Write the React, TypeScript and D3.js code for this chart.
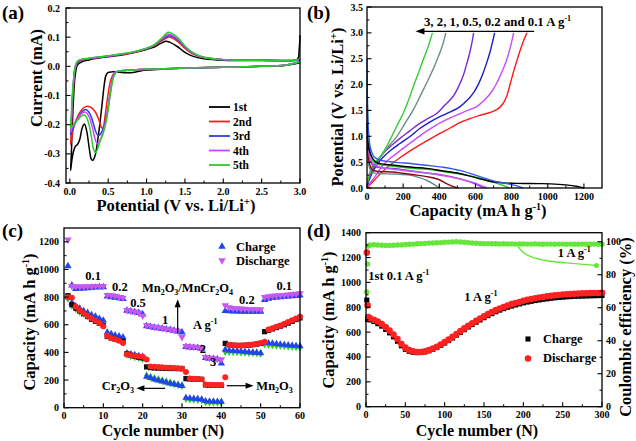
import React from 'react';
import * as d3 from 'd3';

const FONT = 'Liberation Serif, Times New Roman, serif';
type P = [number, number];
type S = d3.ScaleLinear<number, number>;

// ---------------- Panel (a): CV curves [V, mA] ----------------
const cvLabels = ['1st', '2nd', '3rd', '4th', '5th'];
const cvColors = ['#000000', '#ff1a1a', '#2f3fe0', '#cc44ff', '#2ccc2c'];
const cv1st: P[] = [
  [3.0, 0.012], [2.8, 0.003], [2.5, 0.0], [2.0, -0.003], [1.5, -0.006], [1.2, -0.01], [1.0, -0.013], [0.9, -0.017], [0.8, -0.022], [0.72, -0.022], [0.65, -0.02], [0.55, -0.019], [0.5, -0.021], [0.47, -0.032], [0.45, -0.06], [0.42, -0.13], [0.39, -0.2], [0.36, -0.26], [0.33, -0.305], [0.3, -0.322], [0.28, -0.318], [0.25, -0.275], [0.22, -0.222], [0.19, -0.198], [0.16, -0.212], [0.13, -0.25], [0.1, -0.268], [0.07, -0.275], [0.045, -0.295], [0.025, -0.325], [0.01, -0.357],
  [0.02, -0.3], [0.03, -0.22], [0.05, -0.1], [0.07, -0.03], [0.1, 0.005], [0.15, 0.015], [0.25, 0.022], [0.4, 0.029], [0.6, 0.036], [0.8, 0.045], [1.0, 0.058], [1.1, 0.066], [1.18, 0.078], [1.25, 0.086], [1.3, 0.083], [1.4, 0.068], [1.5, 0.048], [1.6, 0.035], [1.75, 0.026], [2.0, 0.021], [2.5, 0.02], [2.9, 0.02], [2.97, 0.025], [2.99, 0.06], [3.0, 0.107],
];
const cv2nd: P[] = [
  [3.0, 0.016], [2.8, 0.004], [2.5, 0.0], [2.0, -0.003], [1.5, -0.006], [1.0, -0.01], [0.8, -0.013], [0.65, -0.016], [0.59, -0.02], [0.56, -0.03], [0.53, -0.05], [0.49, -0.11], [0.46, -0.17], [0.43, -0.213], [0.41, -0.208], [0.38, -0.185], [0.34, -0.16], [0.29, -0.143], [0.23, -0.137], [0.18, -0.142], [0.13, -0.158], [0.08, -0.185], [0.05, -0.21], [0.025, -0.245], [0.01, -0.268],
  [0.02, -0.22], [0.03, -0.15], [0.05, -0.06], [0.07, -0.01], [0.1, 0.012], [0.15, 0.02], [0.25, 0.026], [0.4, 0.031], [0.6, 0.038], [0.8, 0.046], [1.0, 0.06], [1.1, 0.07], [1.2, 0.088], [1.28, 0.1], [1.33, 0.098], [1.42, 0.082], [1.5, 0.062], [1.6, 0.043], [1.75, 0.03], [2.0, 0.023], [2.5, 0.021], [2.9, 0.02], [3.0, 0.022],
];
const cv3rd: P[] = [
  [3.0, 0.016], [2.8, 0.004], [2.5, 0.0], [2.0, -0.003], [1.5, -0.006], [1.0, -0.01], [0.8, -0.013], [0.65, -0.016], [0.6, -0.02], [0.57, -0.03], [0.545, -0.06], [0.515, -0.11], [0.48, -0.17], [0.44, -0.21], [0.4, -0.232], [0.37, -0.238], [0.34, -0.225], [0.3, -0.19], [0.26, -0.162], [0.21, -0.148], [0.16, -0.155], [0.11, -0.175], [0.06, -0.2], [0.03, -0.22], [0.01, -0.235],
  [0.02, -0.19], [0.03, -0.13], [0.05, -0.05], [0.07, -0.005], [0.1, 0.015], [0.15, 0.022], [0.25, 0.027], [0.4, 0.032], [0.6, 0.039], [0.8, 0.047], [1.0, 0.061], [1.1, 0.072], [1.2, 0.092], [1.29, 0.105], [1.34, 0.102], [1.42, 0.087], [1.5, 0.066], [1.6, 0.045], [1.75, 0.03], [2.0, 0.023], [2.5, 0.021], [2.9, 0.02], [3.0, 0.022],
];
const cv4th: P[] = [
  [3.0, 0.016], [2.8, 0.004], [2.5, 0.0], [2.0, -0.003], [1.5, -0.006], [1.0, -0.01], [0.8, -0.013], [0.65, -0.016], [0.6, -0.02], [0.57, -0.03], [0.545, -0.06], [0.515, -0.115], [0.48, -0.175], [0.44, -0.22], [0.4, -0.25], [0.36, -0.265], [0.33, -0.25], [0.29, -0.205], [0.25, -0.172], [0.2, -0.157], [0.15, -0.162], [0.1, -0.18], [0.05, -0.2], [0.025, -0.215], [0.01, -0.225],
  [0.02, -0.18], [0.03, -0.12], [0.05, -0.045], [0.07, -0.002], [0.1, 0.016], [0.15, 0.023], [0.25, 0.027], [0.4, 0.032], [0.6, 0.039], [0.8, 0.047], [1.0, 0.061], [1.1, 0.073], [1.2, 0.095], [1.28, 0.11], [1.33, 0.107], [1.42, 0.091], [1.5, 0.068], [1.6, 0.046], [1.75, 0.03], [2.0, 0.023], [2.5, 0.021], [2.9, 0.02], [3.0, 0.023],
];
const cv5th: P[] = [
  [3.0, 0.016], [2.8, 0.004], [2.5, 0.0], [2.0, -0.003], [1.5, -0.006], [1.0, -0.01], [0.8, -0.013], [0.65, -0.016], [0.62, -0.018], [0.58, -0.03], [0.55, -0.06], [0.52, -0.11], [0.48, -0.18], [0.44, -0.225], [0.39, -0.26], [0.36, -0.285], [0.335, -0.296], [0.31, -0.285], [0.28, -0.24], [0.25, -0.2], [0.22, -0.176], [0.19, -0.167], [0.15, -0.17], [0.1, -0.185], [0.05, -0.2], [0.025, -0.207], [0.01, -0.212],
  [0.02, -0.17], [0.03, -0.11], [0.05, -0.04], [0.07, 0.0], [0.1, 0.018], [0.15, 0.024], [0.25, 0.028], [0.4, 0.033], [0.6, 0.04], [0.8, 0.048], [1.0, 0.062], [1.1, 0.074], [1.2, 0.097], [1.28, 0.117], [1.33, 0.113], [1.42, 0.095], [1.5, 0.07], [1.6, 0.048], [1.75, 0.031], [2.0, 0.023], [2.5, 0.021], [2.9, 0.02], [3.0, 0.024],
];
const cvCycles = [cv1st, cv2nd, cv3rd, cv4th, cv5th];

// ---------------- Panel (b): galvanostatic curves [mAh/g, V] ----------------
const chargeColors = ['#ff1a1a', '#c94cf5', '#1a1acc', '#7a2ad0', '#6f8a8a', '#33cc33'];
const charge01: P[] = [[5, 0.02], [40, 0.15], [80, 0.3], [130, 0.45], [180, 0.58], [230, 0.7], [290, 0.83], [350, 0.95], [400, 1.05], [460, 1.16], [510, 1.26], [560, 1.33], [620, 1.4], [680, 1.46], [720, 1.52], [750, 1.62], [775, 1.8], [795, 2.05], [815, 2.3], [835, 2.53], [855, 2.74], [870, 2.88], [885, 3.0]];
const charge02: P[] = [[5, 0.04], [40, 0.2], [80, 0.4], [120, 0.55], [164, 0.67], [220, 0.82], [274, 0.96], [330, 1.1], [385, 1.22], [440, 1.32], [495, 1.41], [550, 1.49], [605, 1.57], [650, 1.7], [697, 1.9], [725, 2.08], [752, 2.29], [770, 2.45], [789, 2.67], [800, 2.82], [811, 3.0]];
const charge05: P[] = [[3, 0.06], [30, 0.3], [60, 0.47], [90, 0.6], [135, 0.74], [182, 0.86], [240, 1.0], [292, 1.15], [345, 1.27], [403, 1.38], [460, 1.47], [513, 1.57], [550, 1.68], [587, 1.83], [615, 2.0], [642, 2.22], [662, 2.42], [679, 2.61], [693, 2.8], [706, 3.0]];
const charge1: P[] = [[3, 0.08], [30, 0.35], [60, 0.52], [90, 0.67], [135, 0.82], [182, 0.96], [235, 1.1], [292, 1.25], [340, 1.35], [385, 1.44], [430, 1.6], [476, 1.77], [505, 1.95], [531, 2.16], [550, 2.38], [568, 2.61], [580, 2.8], [590, 3.0]];
const charge2: P[] = [[2, 0.1], [30, 0.4], [60, 0.55], [90, 0.67], [127, 0.84], [164, 0.99], [210, 1.25], [256, 1.51], [300, 1.82], [348, 2.16], [390, 2.5], [415, 2.73], [436, 3.0]];
const charge3: P[] = [[2, 0.1], [25, 0.4], [50, 0.52], [72, 0.6], [100, 0.75], [127, 0.93], [165, 1.2], [200, 1.44], [230, 1.7], [256, 1.96], [285, 2.23], [311, 2.48], [335, 2.7], [362, 3.0]];
const chargeCurves = [charge01, charge02, charge05, charge1, charge2, charge3];

const dischargeColors = ['#5f8f8f', '#8b0a1a', '#8a3ad8', '#cc55ff', '#22cc22', '#000000', '#3355ee'];
const disTeal: P[] = [[0, 0.8], [5, 0.55], [15, 0.38], [30, 0.3], [72, 0.28], [150, 0.27], [237, 0.25], [290, 0.2], [329, 0.15], [370, 0.07], [403, 0.0]];
const disDarkRed: P[] = [[0, 1.0], [5, 0.7], [15, 0.45], [30, 0.35], [60, 0.32], [145, 0.31], [250, 0.26], [329, 0.22], [400, 0.16], [440, 0.085], [475, 0.03], [505, 0.0]];
const disPurple: P[] = [[0, 1.6], [4, 1.0], [10, 0.7], [20, 0.5], [40, 0.42], [80, 0.39], [145, 0.38], [250, 0.33], [330, 0.29], [421, 0.25], [500, 0.19], [568, 0.12], [610, 0.06], [645, 0.0]];
const disMagenta: P[] = [[0, 1.9], [4, 1.1], [10, 0.75], [20, 0.55], [40, 0.45], [80, 0.4], [145, 0.36], [250, 0.32], [350, 0.28], [450, 0.22], [540, 0.15], [610, 0.08], [665, 0.0]];
const disGreen: P[] = [[0, 2.2], [3, 1.5], [8, 1.0], [15, 0.75], [30, 0.55], [50, 0.47], [100, 0.44], [145, 0.42], [250, 0.38], [329, 0.36], [421, 0.32], [513, 0.27], [605, 0.21], [680, 0.13], [752, 0.05], [785, 0.0]];
const disBlack: P[] = [[0, 1.25], [5, 0.9], [15, 0.7], [30, 0.58], [50, 0.5], [72, 0.47], [150, 0.44], [250, 0.4], [329, 0.38], [420, 0.33], [513, 0.28], [600, 0.2], [697, 0.12], [760, 0.1], [826, 0.09], [950, 0.085], [1017, 0.08], [1100, 0.06], [1164, 0.03], [1200, 0.0]];
const disBlue: P[] = [[0, 2.5], [3, 1.6], [8, 1.1], [15, 0.85], [25, 0.7], [40, 0.6], [72, 0.54], [150, 0.5], [250, 0.47], [329, 0.44], [420, 0.4], [513, 0.34], [590, 0.26], [660, 0.18], [720, 0.12], [771, 0.085], [820, 0.05], [862, 0.0]];
const dischargeCurves = [disTeal, disDarkRed, disPurple, disMagenta, disGreen, disBlack, disBlue];

// ---------------- Panel (c): rate capability ----------------
const rateCycles = d3.range(1, 61);
const mnCrCharge = [1025, 885, 860, 862, 864, 866, 868, 870, 872, 873, 805, 800, 797, 793, 788, 703, 697, 692, 686, 676, 590, 585, 580, 576, 572, 568, 563, 558, 552, 545, 440, 437, 435, 433, 428, 360, 356, 353, 350, 320, 700, 698, 697, 697, 696, 696, 695, 695, 695, 695, 780, 790, 795, 798, 800, 803, 806, 808, 810, 812];
const mnCrDischarge = [1215, 880, 878, 876, 876, 877, 878, 879, 880, 880, 815, 812, 808, 800, 795, 706, 700, 695, 688, 665, 595, 590, 585, 580, 575, 570, 566, 560, 555, 510, 445, 442, 440, 437, 430, 365, 360, 356, 352, 350, 740, 725, 720, 718, 716, 714, 712, 712, 712, 712, 800, 805, 808, 810, 812, 815, 818, 820, 823, 826];
const cr2o3Charge = [800, 760, 735, 718, 700, 688, 672, 660, 645, 632, 545, 535, 525, 518, 510, 395, 388, 382, 375, 370, 225, 215, 205, 198, 190, 182, 176, 170, 164, 158, 72, 68, 66, 64, 60, 48, 46, 45, 44, 44, 420, 415, 412, 410, 408, 405, 402, 400, 398, 395, 470, 468, 465, 462, 458, 455, 452, 450, 448, 445];
const cr2o3Discharge = [790, 740, 715, 695, 680, 665, 650, 635, 620, 600, 540, 520, 510, 500, 490, 385, 375, 368, 362, 355, 232, 222, 212, 204, 196, 188, 180, 173, 166, 160, 65, 62, 60, 58, 56, 42, 40, 40, 39, 38, 405, 405, 404, 403, 402, 400, 399, 398, 396, 393, 460, 458, 455, 452, 450, 448, 445, 443, 440, 438];
const mn2o3Charge = [810, 745, 720, 700, 680, 660, 640, 625, 610, 595, 515, 505, 495, 487, 480, 390, 380, 372, 365, 360, 295, 290, 288, 287, 286, 285, 284, 284, 283, 282, 210, 208, 207, 206, 205, 165, 163, 162, 162, 162, 465, 455, 452, 450, 450, 451, 453, 456, 460, 465, 550, 560, 570, 580, 590, 600, 612, 625, 638, 650];
const mn2o3Discharge = [800, 795, 730, 705, 685, 665, 648, 630, 612, 590, 520, 505, 495, 485, 468, 385, 380, 375, 372, 368, 348, 298, 296, 294, 292, 290, 289, 288, 286, 284, 258, 212, 210, 208, 205, 168, 166, 165, 164, 164, 220, 455, 452, 450, 450, 452, 455, 458, 462, 468, 478, 565, 575, 585, 595, 607, 620, 632, 645, 658];
const rateLabels = ['0.1', '0.2', '0.5', '1', '2', '3', '0.2', '0.1'];

// ---------------- Panel (d): long cycling ----------------
const longCycles = [1, 2, 3, ...d3.range(5, 301, 5)];
const longDischarge = [1240, 815, 722, 712, 700, 685, 665, 640, 612, 580, 545, 505, 475, 455, 445, 440, 440, 445, 455, 468, 482, 500, 520, 540, 562, 585, 608, 630, 652, 672, 692, 710, 728, 745, 762, 777, 790, 802, 814, 825, 835, 843, 852, 860, 866, 872, 878, 883, 888, 892, 896, 899, 902, 904, 906, 908, 910, 912, 913, 914, 915, 915, 916];
const longCharge = [858, 705, 705, 698, 685, 668, 648, 622, 594, 562, 527, 490, 462, 445, 437, 435, 436, 441, 450, 462, 476, 493, 512, 532, 553, 576, 598, 620, 641, 661, 680, 698, 716, 733, 749, 764, 777, 789, 800, 810, 819, 827, 835, 842, 848, 854, 859, 864, 868, 872, 876, 879, 882, 884, 886, 888, 889, 890, 891, 892, 893, 894, 895];
const longCE = [69.5, 86.5, 97.4, 98.0, 98.2, 98.0, 97.9, 97.8, 97.8, 97.9, 98.0, 98.1, 98.3, 98.5, 98.6, 98.8, 98.9, 99.0, 99.2, 99.3, 99.4, 99.5, 99.7, 99.8, 99.9, 100.0, 99.9, 99.7, 99.5, 99.3, 99.1, 99.0, 98.9, 98.9, 98.8, 98.8, 98.7, 98.8, 98.7, 98.7, 98.6, 98.7, 98.7, 98.6, 98.6, 98.7, 98.6, 98.5, 98.6, 98.6, 98.5, 98.6, 98.6, 98.5, 98.6, 98.5, 98.5, 98.6, 98.5, 98.5, 98.6, 98.5, 98.5];
const ceGuideX = [193, 200, 212, 230, 255, 280, 293];
const ceGuideY = [97.2, 93.5, 90.5, 88.5, 87.2, 86.2, 85.6];

// ---------------- helpers ----------------
const fmt1 = (v: number) => (Math.abs(v) < 1e-9 ? '0.0' : v.toFixed(1));
const fmt0 = (v: number) => String(Math.round(v));

function XTicks({ x, y0, major, minor, fmt, fs = 10, dy = 12 }: any) {
  return (
    <g>
      {minor.map((v: number, i: number) => <line key={'m' + i} x1={x(v)} x2={x(v)} y1={y0} y2={y0 - 2.5} stroke="#000" strokeWidth={1} />)}
      {major.map((v: number, i: number) => <line key={'M' + i} x1={x(v)} x2={x(v)} y1={y0} y2={y0 - 4.5} stroke="#000" strokeWidth={1.1} />)}
      {major.map((v: number, i: number) => <text key={'t' + i} x={x(v)} y={y0 + dy} fontSize={fs} textAnchor="middle">{fmt(v)}</text>)}
    </g>
  );
}
function YTicks({ y, x0, major, minor, fmt, fs = 10, side = 'left', gap = 5 }: any) {
  const d = side === 'left' ? 1 : -1;
  return (
    <g>
      {minor.map((v: number, i: number) => <line key={'m' + i} x1={x0} x2={x0 + d * 2.5} y1={y(v)} y2={y(v)} stroke="#000" strokeWidth={1} />)}
      {major.map((v: number, i: number) => <line key={'M' + i} x1={x0} x2={x0 + d * 4.5} y1={y(v)} y2={y(v)} stroke="#000" strokeWidth={1.1} />)}
      {major.map((v: number, i: number) => (
        <text key={'t' + i} x={side === 'left' ? x0 - gap : x0 + gap} y={y(v) + fs * 0.35} fontSize={fs} textAnchor={side === 'left' ? 'end' : 'start'}>{fmt(v)}</text>
      ))}
    </g>
  );
}
function Frame({ x, y }: { x: S; y: S }) {
  const [x0, x1] = x.range();
  const [y0, y1] = y.range();
  return <rect x={x0} y={Math.min(y0, y1)} width={x1 - x0} height={Math.abs(y0 - y1)} fill="none" stroke="#000" strokeWidth={1.3} />;
}
// superscript / subscript followed by optional trailing text restored to the baseline
function Sup({ t, fs = 8, up = 5, after }: any) {
  return (<><tspan dy={-up} fontSize={fs}>{t}</tspan>{after ? <tspan dy={up}>{after}</tspan> : null}</>);
}
function Sub({ t, fs = 8, dn = 3, after }: any) {
  return (<><tspan dy={dn} fontSize={fs}>{t}</tspan>{after ? <tspan dy={-dn}>{after}</tspan> : null}</>);
}
const curveLine = (x: S, y: S) => d3.line<P>().x(d => x(d[0])).y(d => y(d[1])).curve(d3.curveCatmullRom.alpha(0.5));

// ---------------- Panel A ----------------
function PanelA() {
  const x = d3.scaleLinear().domain([-0.05, 3.0]).range([66, 300]);
  const y = d3.scaleLinear().domain([-0.4, 0.2]).range([183, 8]);
  const line = curveLine(x, y);
  const legY = [107, 121.5, 136, 150.5, 165];
  return (
    <g>
      <text x={2} y={19} fontSize={19}>(a)</text>
      {cvCycles.map((c, i) => <path key={i} d={line(c) || ''} fill="none" stroke={cvColors[i]} strokeWidth={1.5} />)}
      <Frame x={x} y={y} />
      <XTicks x={x} y0={183} major={d3.range(0, 3.01, 0.5)} minor={d3.range(0.25, 3, 0.5)} fmt={fmt1} fs={10} dy={12} />
      <YTicks y={y} x0={66} major={d3.range(-0.4, 0.21, 0.1)} minor={d3.range(-0.35, 0.2, 0.1)} fmt={fmt1} fs={10} gap={6} />
      <text transform="translate(42,78) rotate(-90)" fontSize={16.5} textAnchor="middle">Current (mA)</text>
      <text x={176} y={211} fontSize={16.5} textAnchor="middle">Potential (V vs. Li/Li<Sup t="+" fs={11} up={6} after=")" /></text>
      {cvLabels.map((l, i) => (
        <g key={l}>
          <line x1={209} x2={230} y1={legY[i]} y2={legY[i]} stroke={cvColors[i]} strokeWidth={1.8} />
          <text x={233} y={legY[i] + 4} fontSize={11.5}>{l}</text>
        </g>
      ))}
    </g>
  );
}

// ---------------- Panel B ----------------
function PanelB() {
  const x = d3.scaleLinear().domain([0, 1300]).range([367, 602]);
  const y = d3.scaleLinear().domain([0, 3.5]).range([188, 7]);
  const line = curveLine(x, y);
  const ay = y(3.03);
  const ax0 = x(268);
  return (
    <g>
      <text x={307} y={19} fontSize={19}>(b)</text>
      {chargeCurves.map((c, i) => <path key={'c' + i} d={line(c) || ''} fill="none" stroke={chargeColors[i]} strokeWidth={1.4} />)}
      {dischargeCurves.map((c, i) => <path key={'d' + i} d={line(c) || ''} fill="none" stroke={dischargeColors[i]} strokeWidth={1.4} />)}
      <Frame x={x} y={y} />
      <XTicks x={x} y0={188} major={d3.range(0, 1201, 200)} minor={d3.range(100, 1300, 200)} fmt={fmt0} fs={10} dy={12} />
      <YTicks y={y} x0={367} major={d3.range(0, 3.51, 0.5)} minor={d3.range(0.25, 3.5, 0.5)} fmt={fmt1} fs={10} gap={4} />
      <line x1={x(925)} x2={ax0 + 6} y1={ay} y2={ay} stroke="#000" strokeWidth={1.3} />
      <polygon points={`${ax0},${ay} ${ax0 + 9},${ay - 3.2} ${ax0 + 9},${ay + 3.2}`} fill="#000" />
      <text x={x(315)} y={y(3.13)} fontSize={12.8}>3, 2, 1, 0.5, 0.2 and 0.1 A g<Sup t="-1" fs={8} up={5} /></text>
      <text transform="translate(343,107) rotate(-90)" fontSize={16.5} textAnchor="middle">Potential (V vs. Li/Li<Sup t="+" fs={11} up={6} after=")" /></text>
      <text x={478} y={216} fontSize={16.5} textAnchor="middle">Capacity (mA h g<Sup t="-1" fs={10} up={6} after=")" /></text>
    </g>
  );
}

// ---------------- Panel C ----------------
function Markers({ x, y, xs, ys, type, fill, size, rotate = 0 }: any) {
  const sym = d3.symbol().type(type).size(size)() || '';
  return (
    <g>
      {ys.map((v: number, i: number) => (
        <path key={i} d={sym} fill={fill} transform={`translate(${x(xs[i])},${y(v)}) rotate(${rotate})`} />
      ))}
    </g>
  );
}
function PanelC() {
  const x = d3.scaleLinear().domain([0, 60]).range([64, 300]);
  const y = d3.scaleLinear().domain([0, 1300]).range([407.7, 228]);
  const blue = '#2244ee', mag = '#c658f0', green = '#22cc22', red = '#ff2222';
  const rateLabelPos: P[] = [[7.4, 925], [14.2, 843], [18.8, 728], [25.7, 603], [35.3, 395], [37.9, 300], [46.5, 752], [56, 851]];
  const crY = y(140), mnY = y(159);
  const upX = x(28.9);
  const tri = d3.symbol().type(d3.symbolTriangle).size(24)() || '';
  return (
    <g>
      <text x={2} y={237} fontSize={19}>(c)</text>
      <Markers x={x} y={y} xs={rateCycles} ys={cr2o3Discharge} type={d3.symbolDiamond} fill={green} size={22} />
      <Markers x={x} y={y} xs={rateCycles} ys={cr2o3Charge} type={d3.symbolTriangle} fill={blue} size={22} />
      <Markers x={x} y={y} xs={rateCycles} ys={mn2o3Charge} type={d3.symbolSquare} fill="#111" size={28} />
      <Markers x={x} y={y} xs={rateCycles} ys={mn2o3Discharge} type={d3.symbolCircle} fill={red} size={28} />
      <Markers x={x} y={y} xs={rateCycles} ys={mnCrCharge} type={d3.symbolTriangle} fill={blue} size={24} />
      <Markers x={x} y={y} xs={rateCycles} ys={mnCrDischarge} type={d3.symbolTriangle} fill={mag} size={24} rotate={180} />
      <Frame x={x} y={y} />
      <XTicks x={x} y0={407.7} major={d3.range(0, 61, 10)} minor={d3.range(5, 60, 10)} fmt={fmt0} fs={10} dy={11.5} />
      <YTicks y={y} x0={64} major={d3.range(0, 1201, 200)} minor={d3.range(100, 1300, 200)} fmt={fmt0} fs={10} gap={5} />
      {rateLabels.map((l, i) => (
        <text key={i} x={x(rateLabelPos[i][0])} y={y(rateLabelPos[i][1])} fontSize={12.5} textAnchor="middle">{l}</text>
      ))}
      <text x={x(19.8)} y={y(835)} fontSize={12.5}>Mn<Sub t="2" after="O" /><Sub t="3" after="/MnCr" /><Sub t="2" after="O" /><Sub t="4" /></text>
      <text x={x(32.8)} y={y(569)} fontSize={12.5}>A g<Sup t="-1" fs={8} up={5} /></text>
      <line x1={upX} x2={upX} y1={y(539)} y2={y(770)} stroke="#000" strokeWidth={1.2} />
      <polygon points={`${upX},${y(785)} ${upX - 3},${y(785) + 8} ${upX + 3},${y(785) + 8}`} fill="#000" />
      <text x={x(9.6)} y={y(128)} fontSize={12.5}>Cr<Sub t="2" after="O" /><Sub t="3" /></text>
      <line x1={x(25.7)} x2={x(19.5)} y1={crY} y2={crY} stroke="#000" strokeWidth={1.2} />
      <polygon points={`${x(18.4)},${crY} ${x(18.4) + 8},${crY - 3} ${x(18.4) + 8},${crY + 3}`} fill="#000" />
      <text x={x(48.9)} y={y(128)} fontSize={12.5}>Mn<Sub t="2" after="O" /><Sub t="3" /></text>
      <line x1={x(41.4)} x2={x(47.2)} y1={mnY} y2={mnY} stroke="#000" strokeWidth={1.2} />
      <polygon points={`${x(48.2)},${mnY} ${x(48.2) - 8},${mnY - 3} ${x(48.2) - 8},${mnY + 3}`} fill="#000" />
      <path d={tri} fill={blue} transform="translate(222,246.5)" />
      <text x={236} y={250.5} fontSize={12.5}>Charge</text>
      <path d={tri} fill={mag} transform="translate(222,260.5) rotate(180)" />
      <text x={236} y={264.5} fontSize={12.5}>Discharge</text>
      <text transform="translate(35,322) rotate(-90)" fontSize={16.5} textAnchor="middle">Capacity (mA h g<Sup t="-1" fs={10} up={6} after=")" /></text>
      <text x={163} y={436} fontSize={16} textAnchor="middle">Cycle number (N)</text>
    </g>
  );
}

// ---------------- Panel D ----------------
function PanelD() {
  const x = d3.scaleLinear().domain([0, 300]).range([366, 602]);
  const y = d3.scaleLinear().domain([0, 1400]).range([406.7, 232.7]);
  const y2 = d3.scaleLinear().domain([0, 105.5]).range([406.7, 232.7]);
  const lime = '#66e63a';
  const guide = d3.line<number>().x((_, i) => x(ceGuideX[i])).y(v => y2(v)).curve(d3.curveCatmullRom.alpha(0.5));
  const sq = d3.symbol().type(d3.symbolSquare).size(26)() || '';
  const ci = d3.symbol().type(d3.symbolCircle).size(34)() || '';
  const last = ceGuideX.length - 1;
  return (
    <g>
      <text x={307} y={237} fontSize={19}>(d)</text>
      {longCE.map((v, i) => <circle key={'g' + i} cx={x(longCycles[i])} cy={y2(v)} r={2.7} fill={lime} />)}
      {longCharge.map((v, i) => <path key={'k' + i} d={sq} fill="#000" transform={`translate(${x(longCycles[i])},${y(v)})`} />)}
      {longDischarge.map((v, i) => <path key={'r' + i} d={ci} fill="#ff2020" transform={`translate(${x(longCycles[i])},${y(v)})`} />)}
      <path d={guide(ceGuideY) || ''} fill="none" stroke={lime} strokeWidth={1.4} />
      <circle cx={x(ceGuideX[last])} cy={y2(ceGuideY[last])} r={2.5} fill={lime} />
      <Frame x={x} y={y} />
      <XTicks x={x} y0={406.7} major={d3.range(0, 301, 50)} minor={d3.range(25, 300, 50)} fmt={fmt0} fs={10} dy={11.5} />
      <YTicks y={y} x0={366} major={d3.range(0, 1401, 200)} minor={d3.range(100, 1400, 200)} fmt={fmt0} fs={10} gap={5} />
      <YTicks y={y2} x0={602} major={d3.range(0, 101, 20)} minor={d3.range(10, 100, 20)} fmt={fmt0} fs={10} side="right" gap={4} />
      <text x={x(3)} y={y(1019)} fontSize={12.5}>1st 0.1 A g<Sup t="-1" fs={8} up={5} /></text>
      <text x={x(125)} y={y(850)} fontSize={12.5}>1 A g<Sup t="-1" fs={8} up={5} /></text>
      <text x={x(243.7)} y={y(1204)} fontSize={12.5}>1 A g<Sup t="-1" fs={8} up={5} /></text>
      <path d={sq} fill="#000" transform="translate(528,339)" />
      <text x={543} y={342.5} fontSize={12.5}>Charge</text>
      <path d={ci} fill="#ff2020" transform="translate(528,358.5)" />
      <text x={543} y={362} fontSize={12.5}>Discharge</text>
      <text transform="translate(334,320) rotate(-90)" fontSize={16.5} textAnchor="middle">Capacity (mA h g<Sup t="-1" fs={10} up={6} after=")" /></text>
      <text transform="translate(631,327) rotate(-90)" fontSize={16.5} textAnchor="middle">Coulombic efficiency (%)</text>
      <text x={477} y={436} fontSize={16} textAnchor="middle">Cycle number (N)</text>
    </g>
  );
}

export default function App() {
  return (
    <svg width={636} height={441} style={{ position: 'absolute', left: 0, top: 0, fontFamily: FONT, fontWeight: 'bold' }}>
      <rect x={0} y={0} width={636} height={441} fill="#fff" />
      <PanelA />
      <PanelB />
      <PanelC />
      <PanelD />
    </svg>
  );
}
